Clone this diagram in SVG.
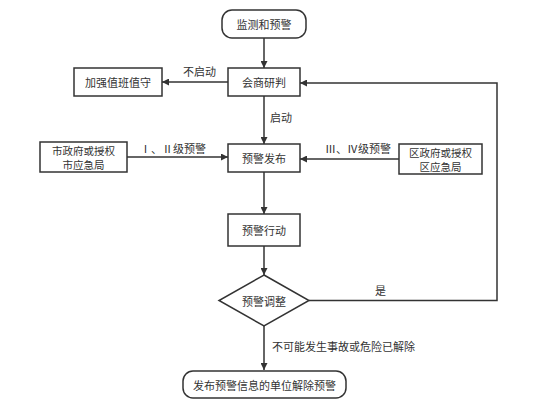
<svg xmlns="http://www.w3.org/2000/svg" width="554" height="403" viewBox="0 0 554 403">
<style>
.n{fill:#fff;stroke:#333;stroke-width:1.5}
.t{font-family:"Noto Sans CJK SC","Noto Sans",sans-serif;font-size:11px;fill:#333;text-anchor:middle;dominant-baseline:central}
.s{font-size:10.5px}
.l{font-family:"Noto Sans CJK SC","Noto Sans",sans-serif;font-size:11px;fill:#333;dominant-baseline:central}
.c{fill:none;stroke:#333;stroke-width:1.5;marker-end:url(#a)}
</style>
<defs>
<marker id="a" viewBox="0 0 10 10" refX="10" refY="5" markerWidth="7" markerHeight="7" markerUnits="userSpaceOnUse" orient="auto"><path d="M0,0L10,5L0,10z" fill="#333"/></marker>
</defs>
<rect width="554" height="403" fill="#fff"/>
<g id="connectors">
<path class="c" d="M264,38V68"/>
<path class="c" d="M228,82H162"/>
<path class="c" d="M264,96V144"/>
<path class="c" d="M127,157H228"/>
<path class="c" d="M399,159H300"/>
<path class="c" d="M264,172V214"/>
<path class="c" d="M264,246V275"/>
<path class="c" d="M309,300.5H497V83H300"/>
<path class="c" d="M264,326V370"/>
<text class="l" x="183" y="71">不启动</text>
<text class="l" x="270" y="117">启动</text>
<text class="l" x="140" y="148">Ⅰ、Ⅱ级预警</text>
<text class="l" x="325" y="148">Ⅲ、Ⅳ级预警</text>
<text class="l" x="375" y="290">是</text>
<text class="l" x="272" y="346">不可能发生事故或危险已解除</text>
</g>
<g id="start"><rect class="n" x="222" y="10" width="84" height="28" rx="10"/><text class="t" x="264" y="24">监测和预警</text></g>
<g id="huishang"><rect class="n" x="228" y="68" width="72" height="28"/><text class="t" x="264" y="82">会商研判</text></g>
<g id="jiaqiang"><rect class="n" x="74" y="68" width="88" height="28"/><text class="t" x="118" y="82">加强值班值守</text></g>
<g id="fabu"><rect class="n" x="228" y="144" width="72" height="28"/><text class="t" x="264" y="158">预警发布</text></g>
<g id="shi"><rect class="n" x="40" y="142" width="87" height="30"/><text class="t s" x="83.5" y="150">市政府或授权</text><text class="t s" x="83.5" y="164">市应急局</text></g>
<g id="qu"><rect class="n" x="399" y="144" width="83" height="30"/><text class="t s" x="440.5" y="152">区政府或授权</text><text class="t s" x="440.5" y="166">区应急局</text></g>
<g id="xingdong"><rect class="n" x="228" y="214" width="72" height="32"/><text class="t" x="264" y="230">预警行动</text></g>
<g id="tiaozheng"><path class="n" d="M264,275L309,300.5L264,326L219,300.5Z"/><text class="t" x="264" y="301">预警调整</text></g>
<g id="end"><rect class="n" x="183" y="371" width="163" height="27" rx="10"/><text class="t" x="264.5" y="384.5">发布预警信息的单位解除预警</text></g>
</svg>
